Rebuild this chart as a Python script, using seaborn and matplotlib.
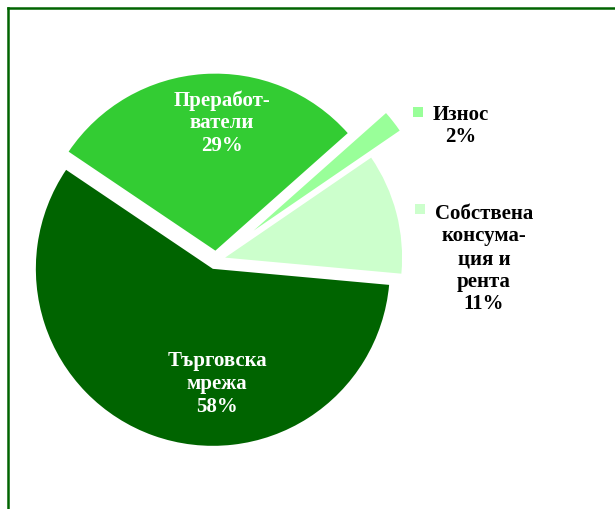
import matplotlib
matplotlib.use("Agg")
import matplotlib.pyplot as plt
from matplotlib.lines import Line2D
from matplotlib.patches import Rectangle
import seaborn as sns

# ---- data ----
categories = ["Търговска\nмрежа", "Собствена\nконсума-\nция и\nрента", "Износ", "Преработ-\nватели"]
values = [58, 11, 2, 29]
colors = ["#006400", "#CCFFCC", "#99FF99", "#33CC33"]
text_colors = ["white", "black", "black", "white"]

# ---- style ----
sns.set_style("white")
plt.rcParams["font.family"] = ["Liberation Serif", "DejaVu Serif"]

W, H = 615, 510
fig = plt.figure(figsize=(W / 100, H / 100), dpi=100)
fig.patch.set_facecolor("white")
ax = fig.add_axes([0, 0, 1, 1])

# pie geometry (pixels)
cx, cy, R = 216, 261, 177

explode = [0.053, 0.053, 0.27, 0.053]
wedges, _ = ax.pie(values, colors=colors, explode=explode, startangle=146,
                   counterclock=True, radius=1.0, center=(0, 0),
                   wedgeprops=dict(linewidth=0))

ax.set_xlim(-cx / R, (W - cx) / R)
ax.set_ylim(-(H - cy) / R, cy / R)
ax.set_aspect("auto")
ax.axis("off")

def px2d(px, py):
    return (px - cx) / R, (cy - py) / R

label_px = [(217, 384), (484, 259), (461, 126), (222, 123)]
for name, v, tc, (px, py) in zip(categories, values, text_colors, label_px):
    x, y = px2d(px, py)
    ax.text(x, y, f"{name}\n{v}%", ha="center", va="center", color=tc,
            fontsize=15, fontweight="bold", linespacing=1.18)

# legend-key squares next to outside labels
for (px, py), c in [((413, 108), colors[2]), ((415, 205), colors[1])]:
    fig.add_artist(Rectangle((px / W, 1 - (py + 10) / H), 10 / W, 10 / H,
                             transform=fig.transFigure, facecolor=c,
                             edgecolor="none"))

# frame border (left and top only visible)
bc = "#006400"
fig.add_artist(Line2D([8 / W, 8 / W], [0, 1 - 9 / H], transform=fig.transFigure,
                      color=bc, linewidth=1.8, solid_capstyle="projecting"))
fig.add_artist(Line2D([8 / W, 1.0], [1 - 9 / H, 1 - 9 / H], transform=fig.transFigure,
                      color=bc, linewidth=1.8, solid_capstyle="projecting"))

fig.savefig("out.png", dpi=100)
